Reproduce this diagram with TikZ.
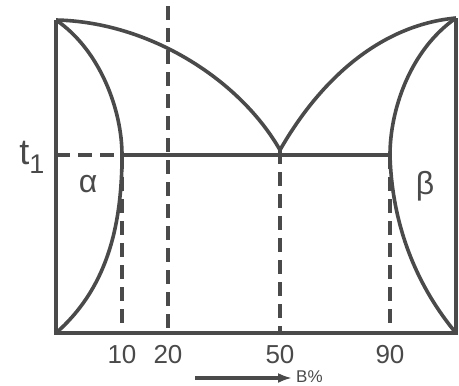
\documentclass[tikz,border=0pt]{standalone}
\usepackage{fontspec}
\setmainfont{Liberation Sans}
\usetikzlibrary{arrows.meta}
\definecolor{ink}{HTML}{4A4A4A}
\begin{document}
\begin{tikzpicture}[x=1pt,y=-1pt,
  ln/.style={draw=ink,line width=3.6pt},
  dsh/.style={draw=ink,line width=3.6pt,dash pattern=on 14pt off 8pt},
  lbl/.style={text=ink,inner sep=0pt,font=\fontsize{26}{26}\selectfont}]
\useasboundingbox (0,0) rectangle (459,386);
% corners and key points
\coordinate (TL) at (56,20);
\coordinate (BL) at (56,333);
\coordinate (TR) at (456,18);
\coordinate (BR) at (456,333);
\coordinate (E) at (280,150);
\coordinate (A) at (122,155);
\coordinate (B) at (390,155);
\coordinate (T1) at (56,155);
\coordinate (X10) at (122,333);
\coordinate (X20b) at (168,333);
\coordinate (X20t) at (168,6);
\coordinate (X50) at (280,333);
\coordinate (X90) at (390,333);
% frame
\draw[ln] (TL) -- (BL) -- (BR) -- (TR);
% liquidus
\draw[ln] (TL) .. controls (150,22) and (240,80) .. (E);
\draw[ln] (E) .. controls (320,80) and (380,25) .. (TR);
% alpha
\draw[ln] (TL) .. controls (100,50) and (122,110) .. (A);
\draw[ln] (A) .. controls (122,230) and (105,290) .. (BL);
% beta
\draw[ln] (TR) .. controls (410,50) and (390,110) .. (B);
\draw[ln] (B) .. controls (392,230) and (420,290) .. (BR);
% isotherm t1
\draw[dsh] (T1) -- (A);
\draw[ln] (A) -- (B);
% dashed verticals
\draw[dsh] (A) -- (X10);
\draw[dsh] (X20t) -- (X20b);
\draw[dsh] (E) -- (X50);
\draw[dsh] (B) -- (X90);
% labels
\node[lbl,font=\fontsize{36}{36}\selectfont] (t1) at (32,157) {t\raisebox{-0.25em}{\fontsize{27}{27}\selectfont 1}};
\node[lbl,font=\fontsize{32}{32}\selectfont] (al) at (88,184) {α};
\node[lbl,font=\fontsize{32}{32}\selectfont] (be) at (425,186) {β};
\node[lbl] (n10) at (122,355) {10};
\node[lbl] (n20) at (168,355) {20};
\node[lbl] (n50) at (280,355) {50};
\node[lbl] (n90) at (390,355) {90};
\coordinate (ar0) at (195,378);
\coordinate (ar1) at (292,378);
\draw[draw=ink,line width=3.6pt,-{Latex[length=14pt,width=10pt]}] (ar0) -- (ar1);
\node[lbl,font=\fontsize{17}{17}\selectfont,anchor=west] (bp) at (296,377) {B\%};
\end{tikzpicture}
\end{document}
